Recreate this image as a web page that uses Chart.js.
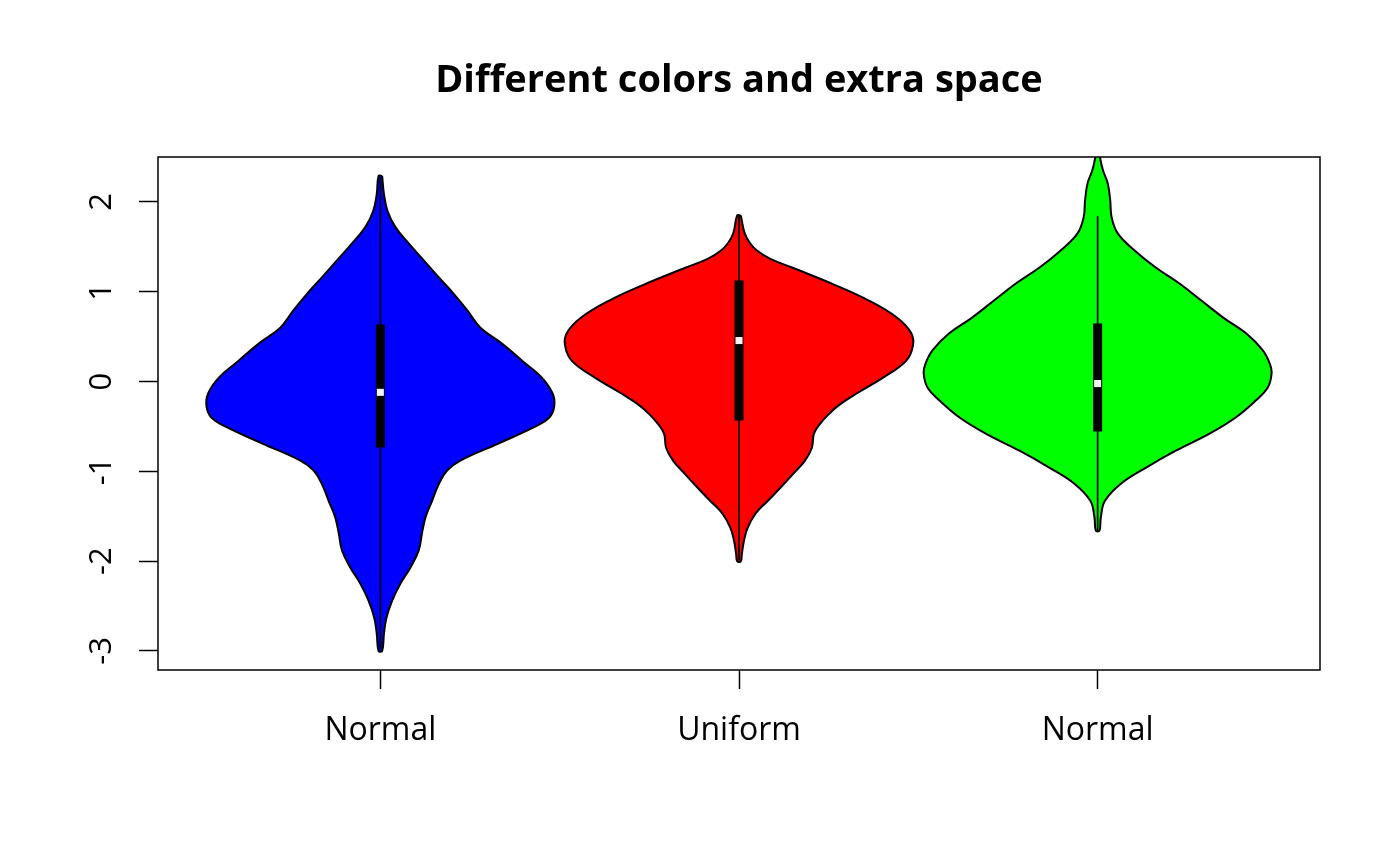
<!DOCTYPE html>
<html>
<head>
<meta charset="utf-8">
<script src="https://cdn.jsdelivr.net/npm/chart.js@4.4.1/dist/chart.umd.min.js"></script>
<style>
  html, body { margin: 0; padding: 0; background: #fff; }
</style>
</head>
<body>
<canvas id="violin" width="1400" height="866"></canvas>
<script>
const categories = ['Normal', 'Uniform', 'Normal']
const fillColors = ['#0000ff', '#ff0000', '#00ff00']
const yTicks = [-3, -2, -1, 0, 1, 2]

// density outline per violin: y level and half-width (in x units)
const normalAY = [2.29, 2.09, 1.90, 1.72, 1.54, 1.35, 1.16, 0.98, 0.79, 0.60, 0.42, 0.23, 0.05, -0.13, -0.27, -0.40, -0.51, -0.69, -0.88, -0.99, -1.14, -1.33, -1.51, -1.69, -1.88, -2.07, -2.25, -2.44, -2.63, -2.81, -3.00]
const normalAW = [0.005, 0.010, 0.020, 0.042, 0.079, 0.121, 0.163, 0.204, 0.243, 0.279, 0.340, 0.396, 0.449, 0.480, 0.485, 0.471, 0.427, 0.329, 0.223, 0.186, 0.163, 0.144, 0.126, 0.116, 0.107, 0.084, 0.056, 0.033, 0.017, 0.010, 0.005]

const uniformY = [1.85, 1.65, 1.54, 1.46, 1.37, 1.27, 1.09, 0.90, 0.71, 0.54, 0.40, 0.23, 0.05, -0.13, -0.27, -0.36, -0.47, -0.58, -0.74, -0.88, -1.02, -1.18, -1.33, -1.47, -1.63, -1.77, -1.92, -2.00]
const uniformW = [0.005, 0.016, 0.031, 0.050, 0.086, 0.148, 0.259, 0.363, 0.441, 0.480, 0.485, 0.466, 0.404, 0.329, 0.276, 0.251, 0.226, 0.209, 0.203, 0.184, 0.153, 0.116, 0.080, 0.046, 0.024, 0.014, 0.008, 0.005]

const normalBY = [2.70, 2.60, 2.49, 2.35, 2.21, 2.02, 1.83, 1.65, 1.46, 1.27, 1.09, 0.90, 0.71, 0.54, 0.35, 0.20, 0.09, -0.07, -0.21, -0.40, -0.58, -0.77, -0.96, -1.14, -1.33, -1.51, -1.66]
const normalBW = [0.003, 0.005, 0.007, 0.015, 0.028, 0.035, 0.039, 0.056, 0.103, 0.162, 0.229, 0.290, 0.351, 0.413, 0.460, 0.480, 0.485, 0.474, 0.441, 0.385, 0.312, 0.218, 0.134, 0.064, 0.020, 0.009, 0.005]

// box summaries
const q1 = [-0.735, -0.434, -0.557]
const q3 = [0.635, 1.125, 0.646]
const medians = [-0.12, 0.457, -0.022]
const whiskerLo = [-2.98, -1.99, -1.66]
const whiskerHi = [2.27, 1.85, 1.84]

const outlines = [[normalAY, normalAW], [uniformY, uniformW], [normalBY, normalBW]]

// right edge top->bottom, left edge bottom->top, closed back at the top
function violinPoints(center, ys, ws) {
  const right = ys.map((y, i) => ({ x: center + ws[i], y }))
  const left = ys.map((y, i) => ({ x: center - ws[i], y })).reverse()
  return right.concat(left, [right[0]])
}

const datasets = []
outlines.forEach(([ys, ws], i) => {
  datasets.push({
    data: violinPoints(i + 1, ys, ws),
    showLine: true, fill: 'shape', tension: 0.4,
    backgroundColor: fillColors[i], borderColor: '#000', borderWidth: 2,
    pointRadius: 0, order: 4
  })
  datasets.push({
    data: [{ x: i + 1, y: whiskerLo[i] }, { x: i + 1, y: whiskerHi[i] }],
    showLine: true, borderColor: '#000', borderWidth: 1.7, pointRadius: 0, order: 3
  })
  datasets.push({
    data: [{ x: i + 1, y: q1[i] }, { x: i + 1, y: q3[i] }],
    showLine: true, borderColor: '#000', borderWidth: 9, borderCapStyle: 'butt', pointRadius: 0, order: 2
  })
})
datasets.push({
  data: medians.map((m, i) => ({ x: i + 1, y: m })),
  pointStyle: 'rect', pointRadius: 5, pointBorderWidth: 0,
  backgroundColor: '#f2f2f2', borderColor: '#f2f2f2', order: 1
})

// plot frame + rotated y labels (R style)
const framePlugin = {
  id: 'frame',
  afterDraw(chart) {
    const { ctx, chartArea: a } = chart
    const yScale = chart.scales.y
    ctx.save()
    ctx.strokeStyle = '#000'
    ctx.lineWidth = 1.5
    ctx.strokeRect(a.left, a.top, a.right - a.left, a.bottom - a.top)
    ctx.fillStyle = '#000'
    ctx.font = '31px "Open Sans"'
    ctx.textAlign = 'center'
    ctx.textBaseline = 'alphabetic'
    for (const t of yTicks) {
      ctx.save()
      ctx.translate(a.left - 47, yScale.getPixelForValue(t))
      ctx.rotate(-Math.PI / 2)
      ctx.fillText(String(t), 0, 0)
      ctx.restore()
    }
    ctx.restore()
  }
}

new Chart(document.getElementById('violin'), {
  type: 'scatter',
  data: { datasets },
  plugins: [framePlugin],
  options: {
    responsive: false, animation: false, devicePixelRatio: 1,
    layout: { padding: { right: 80 } },
    plugins: {
      legend: { display: false },
      tooltip: { enabled: false },
      title: {
        display: true, fullSize: false, text: 'Different colors and extra space', color: '#000',
        font: { family: 'Open Sans', size: 38, weight: 'bold' },
        padding: { top: 58, bottom: 53.4 }
      }
    },
    scales: {
      x: {
        type: 'linear', min: 0.38, max: 3.62,
        border: { display: false },
        grid: { drawOnChartArea: false, drawTicks: true, tickLength: 19, tickColor: '#000', tickWidth: 1.5 },
        ticks: {
          stepSize: 1, includeBounds: false, color: '#000', padding: 23,
          font: { family: 'Open Sans', size: 32 },
          callback: v => Number.isInteger(v) ? categories[v - 1] : ''
        },
        afterFit: s => { s.height = 196 }
      },
      y: {
        min: -3.212, max: 2.501,
        border: { display: false },
        grid: { drawOnChartArea: false, drawTicks: true, tickLength: 19, tickColor: '#000', tickWidth: 1.5 },
        ticks: { stepSize: 1, includeBounds: false, display: false },
        afterFit: s => { s.width = 158 }
      }
    }
  }
})
</script>
</body>
</html>
